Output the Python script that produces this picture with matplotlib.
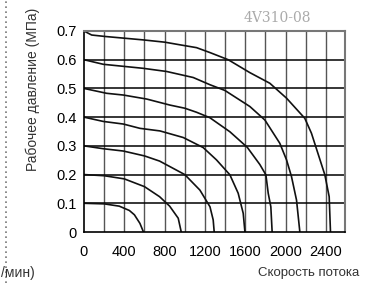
import matplotlib.pyplot as plt
from matplotlib.lines import Line2D

plt.rcParams['font.family'] = ['Liberation Sans', 'DejaVu Sans']

# flow (l/min) vs working pressure (MPa), one curve per supply pressure
flow_01 = [0, 200, 350, 450, 500, 555, 590]
pres_01 = [0.1, 0.098, 0.09, 0.075, 0.06, 0.03, 0.0]

flow_02 = [0, 200, 400, 600, 750, 850, 935, 965]
pres_02 = [0.2, 0.196, 0.185, 0.158, 0.123, 0.09, 0.048, 0.0]

flow_03 = [0, 192, 390, 600, 750, 1000, 1150, 1250, 1282, 1292]
pres_03 = [0.3, 0.29, 0.282, 0.265, 0.247, 0.2, 0.146, 0.088, 0.042, 0.0]

flow_04 = [0, 192, 390, 555, 754, 985, 1183, 1315, 1448, 1530, 1580, 1597]
pres_04 = [0.4, 0.385, 0.376, 0.361, 0.352, 0.329, 0.294, 0.251, 0.199, 0.135, 0.065, 0.0]

flow_05 = [0, 225, 390, 622, 853, 1001, 1117, 1249, 1448, 1620, 1745, 1805, 1828, 1854, 1867]
pres_05 = [0.5, 0.483, 0.477, 0.463, 0.442, 0.431, 0.417, 0.398, 0.349, 0.295, 0.235, 0.199, 0.135, 0.088, 0.0]

flow_06 = [0, 192, 588, 820, 1084, 1249, 1398, 1646, 1795, 1943, 2010, 2059, 2109, 2142]
pres_06 = [0.6, 0.584, 0.57, 0.559, 0.538, 0.513, 0.493, 0.437, 0.39, 0.309, 0.251, 0.193, 0.111, 0.0]

flow_07 = [0, 76, 208, 588, 803, 950, 1117, 1249, 1431, 1646, 1844, 2010, 2191, 2257, 2390, 2433, 2446]
pres_07 = [0.7, 0.686, 0.681, 0.669, 0.661, 0.652, 0.642, 0.625, 0.6, 0.555, 0.518, 0.466, 0.396, 0.344, 0.199, 0.123, 0.0]

x_ticks = [0, 400, 800, 1200, 1600, 2000, 2400]
y_ticks = [0, 0.1, 0.2, 0.3, 0.4, 0.5, 0.6, 0.7]
y_labels = ['0', '0.1', '0.2', '0.3', '0.4', '0.5', '0.6', '0.7']

fig = plt.figure(figsize=(3.67, 2.83), dpi=100)
ax = fig.add_axes([84 / 367, 51 / 283, 261 / 367, 201 / 283])

for x in range(200, 2600, 200):
    ax.axvline(x, color='#555555', lw=1.0, zorder=1)
for y in y_ticks[1:]:
    ax.axhline(y, color='black', lw=1.1, zorder=1)

for fl, pr in [(flow_01, pres_01), (flow_02, pres_02), (flow_03, pres_03), (flow_04, pres_04),
               (flow_05, pres_05), (flow_06, pres_06), (flow_07, pres_07)]:
    ax.plot(fl, pr, color='#111111', lw=1.2, zorder=2)

ax.set_xlim(0, 2590)
ax.set_ylim(0, 0.7)
ax.set_xticks(x_ticks)
ax.set_yticks(y_ticks)
ax.set_yticklabels(y_labels)
ax.tick_params(length=0, labelsize=10.5)
ax.tick_params(axis='y', pad=5)
ax.tick_params(axis='x', pad=9)
ax.spines['left'].set_color('black')
ax.spines['bottom'].set_color('black')
ax.spines['left'].set_linewidth(1.2)
ax.spines['bottom'].set_linewidth(1.2)
ax.spines['top'].set_color('#777777')
ax.spines['right'].set_color('#777777')
ax.spines['top'].set_linewidth(1.5)
ax.spines['right'].set_linewidth(1.5)

fig.text(33 / 367, 1 - 89 / 283, 'Рабочее давление (МПа)', rotation=90,
         ha='center', va='center', fontsize=10, color='#333333')
fig.text(277 / 367, 1 - 17.5 / 283, '4V310-08', ha='center', va='center',
         fontsize=10, color='#aaaaaa', family='DejaVu Serif')
fig.text(258 / 367, 1 - 273 / 283, 'Скорость потока', ha='left', va='center',
         fontsize=9.5, color='#333333')
fig.text(1 / 367, 1 - 273 / 283, '/мин)', ha='left', va='center',
         fontsize=10, color='#333333')
fig.add_artist(Line2D([6 / 367, 6 / 367], [0.0, 1.0], transform=fig.transFigure,
                      color='#777777', lw=1.2, ls=(0, (1, 2))))

plt.savefig('out.png', dpi=100)
